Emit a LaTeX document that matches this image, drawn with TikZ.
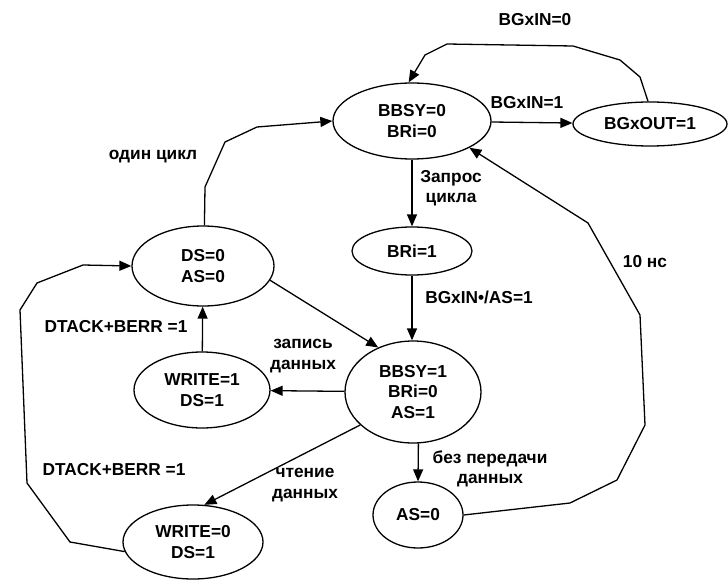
\documentclass[tikz,border=0pt]{standalone}
\usepackage{fontspec}
\setmainfont{Liberation Sans}
\usetikzlibrary{shapes.geometric,arrows.meta}
\newcommand{\fsz}{\fontsize{17.3}{20.5}\selectfont}

\begin{document}
\begin{tikzpicture}[
    x=1pt, y=-1pt,
    st/.style={ellipse, draw, line width=1.3pt, inner sep=0pt, align=center, font=\fsz\bfseries},
    arr/.style={-{Triangle[length=12pt,width=10pt]}, line width=1.3pt, line join=round},
    txt/.style={font=\fsz\bfseries, align=center},
]
\useasboundingbox (0,0) rectangle (728,583);
% states
\node[st, minimum width=158, minimum height=76] (idle) at (412,121) {BBSY=0\\BRi=0};
\node[st, minimum width=154, minimum height=44] (bgout) at (650,124) {BGxOUT=1};
\node[st, minimum width=120, minimum height=48] (req) at (412,251) {BRi=1};
\node[st, minimum width=136, minimum height=102] (busy) at (413,392) {BBSY=1\\BRi=0\\AS=1};
\node[st, minimum width=90, minimum height=66] (noData) at (418,515) {AS=0};
\node[st, minimum width=142, minimum height=80] (done) at (203,266) {DS=0\\AS=0};
\node[st, minimum width=136, minimum height=76] (wrOne) at (202,390) {WRITE=1\\DS=1};
\node[st, minimum width=140, minimum height=74] (wrZero) at (193,542) {WRITE=0\\DS=1};
% transitions
\draw[arr] (idle) -- (bgout);
\draw[arr] (bgout.95) -- (640,77) -- (620,60) -- (573,46) -- (447,44) -- (425,55) -- (idle.95);
\draw[arr] (idle) -- (req);
\draw[arr] (req.south) -- (req.south |- busy.north);
\draw[arr] (busy) -- (wrOne);
\draw[arr] (wrOne) -- (done);
\draw[arr] (done.-12) -- (busy.128);
\draw[arr] (done.88) -- (205,187) -- (225,142) -- (257,127) -- (idle.west);
\draw[arr] (busy.212) -- (wrZero.73);
\draw[arr] (wrZero.188) -- (70,542) -- (27,483) -- (20,310) -- (37,283) -- (83,265) -- (done.west);
\draw[arr] (busy.-84) -- (noData.north);
\draw[arr] (noData.east) -- (570,503) -- (617,480) -- (645,425) -- (640,315) -- (588,223) -- (idle.-25);
% labels
\node[txt] (lIn1) at (527,103) {BGxIN=1};
\node[txt] (lIn0) at (535,20) {BGxIN=0};
\node[txt] (lReq) at (451,188) {Запрос\\цикла};
\node[txt] (lGrant) at (479,297) {BGxIN•/AS=1};
\node[txt] (lWr) at (303,356) {запись\\данных};
\node[txt] (lAck1) at (116,327) {DTACK+BERR =1};
\node[txt] (lAck0) at (114,470) {DTACK+BERR =1};
\node[txt] (lOne) at (153,157) {один цикл};
\node[txt] (lRd) at (305,485) {чтение\\данных};
\node[txt] (lNo) at (490,469) {без передачи\\данных};
\node[txt] (lTime) at (645,262) {10 нс};
\end{tikzpicture}
\end{document}
